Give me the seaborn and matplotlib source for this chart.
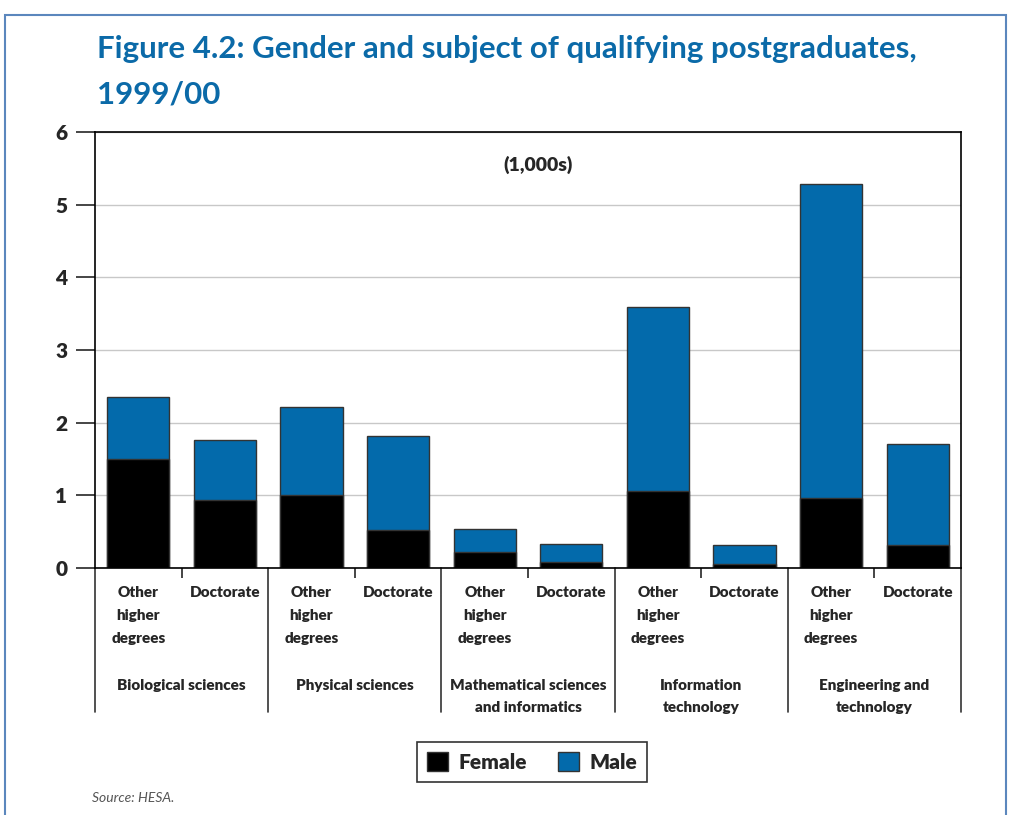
import numpy as np
import pandas as pd
import matplotlib
matplotlib.use('Agg')
import matplotlib.pyplot as plt
import matplotlib.transforms as mtransforms
from matplotlib.patches import Rectangle, Patch
import seaborn as sns

sns.set_style('white')
plt.rcParams['font.family'] = ['Lato', 'DejaVu Sans']

# data, in thousands
subjects = ['Biological sciences', 'Physical sciences',
            'Mathematical sciences\nand informatics',
            'Information\ntechnology', 'Engineering and\ntechnology']
degrees = ['Other\nhigher\ndegrees', 'Doctorate']
female = [1.50, 0.94, 1.00, 0.52, 0.22, 0.08, 1.06, 0.05, 0.97, 0.31]
male = [0.85, 0.82, 1.21, 1.29, 0.32, 0.25, 2.53, 0.26, 4.32, 1.39]

blue = '#036aab'
title_blue = '#0b6aa8'
heavy = 'heavy'

keys, deg_labels = [], []
for s in subjects:
    for d in degrees:
        keys.append(s + '|' + d)
        deg_labels.append(d)

df = pd.DataFrame({'key': keys, 'female': female, 'male': male})
df['total'] = df['female'] + df['male']

fig = plt.figure(figsize=(10.09, 8.15), dpi=100)
ax = fig.add_axes([95/1009, 1-568/815, 866/1009, 436/815])

sns.barplot(data=df, x='key', y='total', order=keys, color=blue, saturation=1,
            width=0.72, edgecolor='#333333', linewidth=1, errorbar=None, ax=ax)
sns.barplot(data=df, x='key', y='female', order=keys, color='black', saturation=1,
            width=0.72, edgecolor='#333333', linewidth=1, errorbar=None, ax=ax)

ax.set_xlim(-0.5, 9.5)
ax.set_ylim(0, 6)
ax.set_xlabel('')
ax.set_ylabel('')
ax.set_axisbelow(True)
ax.yaxis.grid(True, color='#c8c8c8', lw=1)

ax.set_yticks(range(7))
ax.set_yticklabels([str(i) for i in range(7)], fontsize=15, fontweight=heavy)
ax.tick_params(axis='y', direction='out', length=14, width=1.2, pad=6, left=True)

ax.set_xticks(range(10))
ax.set_xticklabels(deg_labels, fontsize=11, fontweight=heavy, va='top')
for t in ax.get_xticklabels():
    t.set_linespacing(1.9)
ax.tick_params(axis='x', which='major', length=0, pad=13)
ax.set_xticks(np.arange(0.5, 10, 2), minor=True)
ax.tick_params(axis='x', which='minor', direction='out', length=7, width=1.2, bottom=True)

for sp in ax.spines.values():
    sp.set_color('black')
    sp.set_linewidth(1.2)

# group separators and group names under the axis
trans = mtransforms.blended_transform_factory(ax.transData, ax.transAxes)
for x in np.arange(-0.5, 10, 2):
    ax.plot([x, x], [0, -0.33], color='#333333', lw=1.2, transform=trans, clip_on=False)
for i, s in enumerate(subjects):
    ax.text(2*i + 0.5, -0.255, s, transform=trans, ha='center', va='top',
            fontsize=11, fontweight=heavy, linespacing=1.8)

ax.text(0.512, 0.924, '(1,000s)', transform=ax.transAxes, ha='center', va='center',
        fontsize=14, fontweight=heavy)

fig.text(97/1009, 1-35/815, 'Figure 4.2: Gender and subject of qualifying postgraduates,\n1999/00',
         ha='left', va='top', fontsize=22.5, fontweight='bold', color=title_blue, linespacing=1.75)

handles = [Patch(facecolor='black', edgecolor='#333333', label='Female'),
           Patch(facecolor=blue, edgecolor='#333333', label='Male')]
leg = fig.legend(handles=handles, loc='center', bbox_to_anchor=(532/1009, 1-762/815), ncol=2,
                 frameon=True, fancybox=False, edgecolor='black', handlelength=1.0,
                 handleheight=1.0, columnspacing=1.5, handletextpad=0.5,
                 prop={'size': 15, 'weight': heavy}, borderpad=0.5)
leg.get_frame().set_linewidth(1.2)

fig.text(92/1009, 1-798/815, 'Source: HESA.', ha='left', va='center', fontsize=10,
         style='italic', color='#555555')

fig.patches.append(Rectangle((5/1009, -0.05), 1001/1009, 1.05 - 15/815, fill=False,
                             edgecolor='#5b87bd', lw=1.5, transform=fig.transFigure))

fig.savefig('out.png', dpi=100)
